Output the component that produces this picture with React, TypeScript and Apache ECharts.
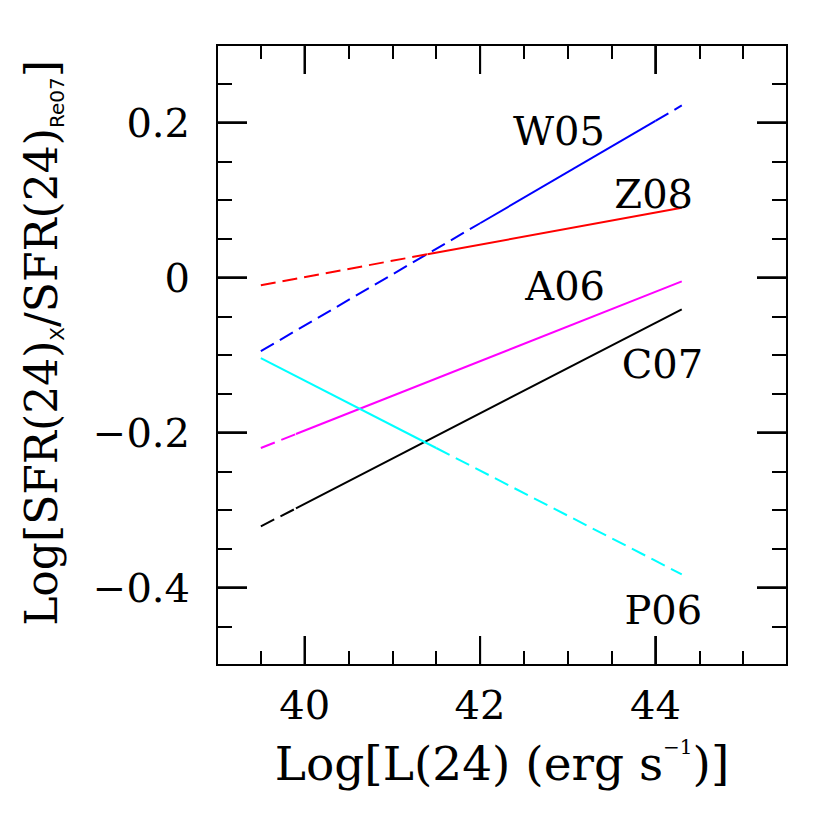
import React, { useEffect, useRef } from "react";
import * as echarts from "echarts";

// ---- data ----
const xMajorTicks = [40, 42, 44];
const xMinorTicks = [39.5, 40, 40.5, 41, 41.5, 42, 42.5, 43, 43.5, 44, 44.5, 45];
const yMajorTicks = [-0.4, -0.2, 0, 0.2];
const yMinorTicks = [
  -0.45, -0.4, -0.35, -0.3, -0.25, -0.2, -0.15, -0.1, -0.05, 0, 0.05, 0.1, 0.15, 0.2, 0.25,
];

const curveNames = ["W05", "Z08", "A06", "C07", "P06"];
const curveColors = ["#0000ff", "#ff0000", "#ff00ff", "#000000", "#00ffff"];

// breakpoints of each relation (x = Log L(24), y = log ratio) and the style of each piece
const w05X = [39.5, 42.0, 44.0, 44.3];
const w05Y = [-0.095, 0.07, 0.202, 0.222];
const w05Pieces = ["dashed", "solid", "dashed"];

const z08X = [39.5, 41.4, 44.3];
const z08Y = [-0.01, 0.03, 0.09];
const z08Pieces = ["dashed", "solid"];

const a06X = [39.5, 39.9, 44.3];
const a06Y = [-0.22, -0.202, -0.005];
const a06Pieces = ["dashed", "solid"];

const c07X = [39.5, 39.9, 44.3];
const c07Y = [-0.321, -0.298, -0.041];
const c07Pieces = ["dashed", "solid"];

const p06X = [39.5, 41.5, 44.3];
const p06Y = [-0.104, -0.22, -0.383];
const p06Pieces = ["solid", "dashed"];

// label anchor positions (data coordinates)
const labelX = [42.9, 43.98, 42.97, 44.08, 44.09];
const labelY = [0.189, 0.108, -0.011, -0.111, -0.429];

const xMin = 39;
const xMax = 45.5;
const yMin = -0.5;
const yMax = 0.3;

const SERIF = "DejaVu Serif";
const MAJOR_X_LEN = 29;
const MAJOR_Y_LEN = 30;

function buildOption() {
  const curves = [
    [w05X, w05Y, w05Pieces],
    [z08X, z08Y, z08Pieces],
    [a06X, a06Y, a06Pieces],
    [c07X, c07Y, c07Pieces],
    [p06X, p06Y, p06Pieces],
  ] as [number[], number[], string[]][];

  const series: any[] = [];
  curves.forEach(([xs, ys, pieces], ci) => {
    pieces.forEach((kind, i) => {
      series.push({
        name: curveNames[ci],
        type: "line",
        xAxisIndex: 0,
        yAxisIndex: 0,
        showSymbol: false,
        symbol: "none",
        data: [
          [xs[i], ys[i]],
          [xs[i + 1], ys[i + 1]],
        ],
        lineStyle: {
          color: curveColors[ci],
          width: 2,
          type: kind === "dashed" ? [15, 7] : "solid",
        },
      });
    });
  });

  // kind 0: curve label; 1: bottom tick; 2: top tick; 3: left tick; 4: right tick
  const annData: number[][] = [
    ...curveNames.map((_, i) => [labelX[i], labelY[i], 0, i]),
    ...xMajorTicks.map((v) => [v, yMin, 1, 0]),
    ...xMajorTicks.map((v) => [v, yMax, 2, 0]),
    ...yMajorTicks.map((v) => [xMin, v, 3, 0]),
    ...yMajorTicks.map((v) => [xMax, v, 4, 0]),
  ];

  series.push({
    type: "custom",
    coordinateSystem: "cartesian2d",
    xAxisIndex: 0,
    yAxisIndex: 0,
    silent: true,
    clip: false,
    data: annData,
    renderItem: (params: any, api: any) => {
      const p = api.coord([api.value(0), api.value(1)]);
      const kind = Number(api.value(2));
      if (kind === 0) {
        return {
          type: "text",
          x: p[0],
          y: p[1],
          style: {
            text: curveNames[Number(api.value(3))],
            fill: "#000",
            font: `40px "${SERIF}"`,
            align: "center",
            verticalAlign: "middle",
          },
        };
      }
      let dx = 0;
      let dy = 0;
      if (kind === 1) dy = -MAJOR_X_LEN;
      else if (kind === 2) dy = MAJOR_X_LEN;
      else if (kind === 3) dx = MAJOR_Y_LEN;
      else dx = -MAJOR_Y_LEN;
      return {
        type: "line",
        shape: { x1: p[0], y1: p[1], x2: p[0] + dx, y2: p[1] + dy },
        style: { stroke: "#111111", lineWidth: 2 },
      };
    },
    z: 5,
  });

  const ls = (c: string) => ({ color: c, width: 2 });
  const fmtY = (v: number) => (v < 0 ? "\u2212" + String(Math.abs(v)) : String(v));

  const xBase = {
    type: "value",
    min: xMin,
    max: xMax,
    splitLine: { show: false },
    axisLine: { show: false, onZero: false },
  };
  const yBase = {
    type: "value",
    min: yMin,
    max: yMax,
    splitLine: { show: false },
    axisLine: { show: false, onZero: false },
  };

  const xAxis = [
    {
      ...xBase,
      position: "bottom",
      axisTick: { show: true, inside: true, length: 14, customValues: xMinorTicks, lineStyle: ls("#000") },
      axisLabel: {
        show: true,
        customValues: xMajorTicks,
        margin: 20,
        fontFamily: SERIF,
        fontSize: 40,
        color: "#000",
      },
      name: "{t|Log[L(24) (erg s}{sup|\u22121}{t|)]}",
      nameLocation: "middle",
      nameGap: 72,
      nameTextStyle: {
        rich: {
          t: { fontFamily: SERIF, fontSize: 47, lineHeight: 52, color: "#000" },
          sup: { fontFamily: SERIF, fontSize: 20, lineHeight: 36, verticalAlign: "top", color: "#000" },
        },
      },
    },
    {
      ...xBase,
      position: "bottom",
      axisTick: { show: true, inside: true, length: MAJOR_X_LEN, customValues: xMajorTicks, lineStyle: ls("#0a0a0a") },
      axisLabel: { show: false },
    },
    {
      ...xBase,
      position: "top",
      axisTick: { show: true, inside: true, length: 14, customValues: xMinorTicks, lineStyle: ls("#000") },
      axisLabel: { show: false },
    },
    {
      ...xBase,
      position: "top",
      axisTick: { show: true, inside: true, length: MAJOR_X_LEN, customValues: xMajorTicks, lineStyle: ls("#0a0a0a") },
      axisLabel: { show: false },
    },
  ];

  const yAxis = [
    {
      ...yBase,
      position: "left",
      axisTick: { show: true, inside: true, length: 15, customValues: yMinorTicks, lineStyle: ls("#000") },
      axisLabel: {
        show: true,
        customValues: yMajorTicks,
        margin: 27,
        formatter: fmtY,
        fontFamily: SERIF,
        fontSize: 40,
        color: "#000",
      },
      name: "{t|Log[SFR(24)}{sub|X}{t|/SFR(24)}{sub|Re07}{t|]}",
      nameLocation: "middle",
      nameRotate: 90,
      nameGap: 150,
      nameTextStyle: {
        padding: [0, 0, 0, 24],
        rich: {
          t: { fontFamily: SERIF, fontSize: 44, lineHeight: 52, color: "#000" },
          sub: {
            fontFamily: "DejaVu Sans",
            fontSize: 20,
            lineHeight: 40,
            verticalAlign: "bottom",
            color: "#000",
          },
        },
      },
    },
    {
      ...yBase,
      position: "left",
      axisTick: { show: true, inside: true, length: MAJOR_Y_LEN, customValues: yMajorTicks, lineStyle: ls("#0a0a0a") },
      axisLabel: { show: false },
    },
    {
      ...yBase,
      position: "right",
      axisTick: { show: true, inside: true, length: 15, customValues: yMinorTicks, lineStyle: ls("#000") },
      axisLabel: { show: false },
    },
    {
      ...yBase,
      position: "right",
      axisTick: { show: true, inside: true, length: MAJOR_Y_LEN, customValues: yMajorTicks, lineStyle: ls("#0a0a0a") },
      axisLabel: { show: false },
    },
  ];

  return {
    animation: false,
    grid: {
      show: true,
      borderColor: "#000",
      borderWidth: 2,
      left: 217,
      top: 45,
      right: 43,
      bottom: 165,
      outerBoundsMode: "none",
    },
    xAxis,
    yAxis,
    series,
  };
}

export default function App() {
  const ref = useRef<HTMLDivElement>(null);
  useEffect(() => {
    if (!ref.current) return;
    const chart = echarts.init(ref.current, undefined, { renderer: "svg" });
    chart.setOption(buildOption() as any);

    // major ticks once more as graphic lines, positioned through the grid's scales
    const g: any[] = [];
    const finder = { gridIndex: 0 };
    xMajorTicks.forEach((v) => {
      const b = chart.convertToPixel(finder as any, [v, yMin]) as number[];
      const t = chart.convertToPixel(finder as any, [v, yMax]) as number[];
      if (b && t) {
        g.push({ type: "line", z: 100, silent: true, shape: { x1: b[0], y1: b[1], x2: b[0], y2: b[1] - MAJOR_X_LEN }, style: { stroke: "#000", lineWidth: 2 } });
        g.push({ type: "line", z: 100, silent: true, shape: { x1: t[0], y1: t[1], x2: t[0], y2: t[1] + MAJOR_X_LEN }, style: { stroke: "#000", lineWidth: 2 } });
      }
    });
    yMajorTicks.forEach((v) => {
      const l = chart.convertToPixel(finder as any, [xMin, v]) as number[];
      const r = chart.convertToPixel(finder as any, [xMax, v]) as number[];
      if (l && r) {
        g.push({ type: "line", z: 100, silent: true, shape: { x1: l[0], y1: l[1], x2: l[0] + MAJOR_Y_LEN, y2: l[1] }, style: { stroke: "#000", lineWidth: 2 } });
        g.push({ type: "line", z: 100, silent: true, shape: { x1: r[0], y1: r[1], x2: r[0] - MAJOR_Y_LEN, y2: r[1] }, style: { stroke: "#000", lineWidth: 2 } });
      }
    });
    chart.setOption({ graphic: g } as any);

    return () => chart.dispose();
  }, []);
  return <div ref={ref} style={{ position: "absolute", left: 0, top: 0, width: 830, height: 830 }} />;
}
